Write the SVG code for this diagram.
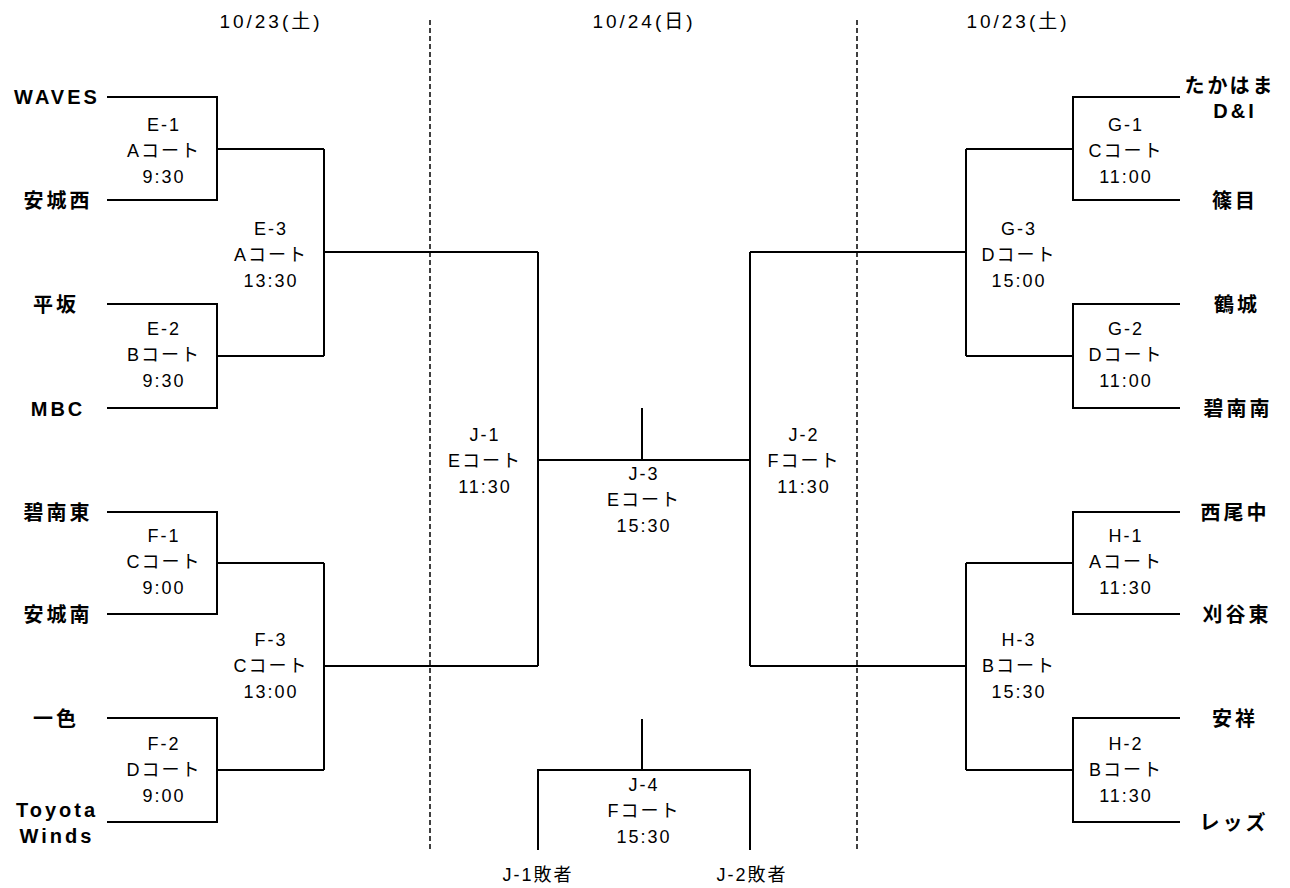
<svg xmlns="http://www.w3.org/2000/svg" width="1290" height="888" viewBox="0 0 1290 888">
<style>
.ln{stroke:#000;stroke-width:2;fill:none}
.dash{stroke:#000;stroke-width:1.5;stroke-dasharray:5,3;fill:none}
.lbl{font-family:"Liberation Sans","Noto Sans CJK JP",sans-serif;font-size:18px;letter-spacing:2px;fill:#000;text-anchor:middle}
.team{font-family:"Liberation Sans","Noto Sans CJK JP",sans-serif;font-size:20px;font-weight:bold;letter-spacing:3px;fill:#000;text-anchor:middle}
.date{font-family:"Liberation Sans","Noto Sans CJK JP",sans-serif;font-size:19px;letter-spacing:3px;fill:#000;text-anchor:middle}
</style>
<rect width="1290" height="888" fill="#fff"/>
<g id="dates">
<text class="date" x="271" y="28">10/23(土)</text>
<text class="date" x="644" y="28">10/24(日)</text>
<text class="date" x="1018" y="28">10/23(土)</text>
</g>
<g id="dividers">
<line class="dash" x1="430" y1="20" x2="430" y2="850"/>
<line class="dash" x1="857" y1="20" x2="857" y2="850"/>
</g>
<g id="connectors">
<path class="ln" d="M107,97H217V200H107M217,149H324"/>
<path class="ln" d="M107,304H217V408H107M217,356H324"/>
<path class="ln" d="M324,149V356M324,252H538"/>
<path class="ln" d="M107,512H217V614H107M217,563H324"/>
<path class="ln" d="M107,718H217V822H107M217,770H324"/>
<path class="ln" d="M324,563V770M324,666H538"/>
<path class="ln" d="M538,252V666M538,460H750M642,408V460"/>
<path class="ln" d="M750,252V666"/>
<path class="ln" d="M1180,97H1073V200H1180M1073,149H966"/>
<path class="ln" d="M1180,304H1073V408H1180M1073,356H966"/>
<path class="ln" d="M966,149V356M966,252H750"/>
<path class="ln" d="M1180,512H1073V614H1180M1073,563H966"/>
<path class="ln" d="M1180,718H1073V822H1180M1073,770H966"/>
<path class="ln" d="M966,563V770M966,666H750"/>
<path class="ln" d="M538,850V770H750V850M642,719V770"/>
</g>
<g id="teams-left">
<text class="team" x="57" y="104">WAVES</text>
<text class="team" x="58" y="208">安城西</text>
<text class="team" x="56" y="312">平坂</text>
<text class="team" x="58" y="416">MBC</text>
<text class="team" x="58" y="520">碧南東</text>
<text class="team" x="58" y="622">安城南</text>
<text class="team" x="56" y="726">一色</text>
<text class="team" x="57" y="817">Toyota</text>
<text class="team" x="57" y="843">Winds</text>
</g>
<g id="teams-right">
<text class="team" x="1230" y="93">たかはま</text>
<text class="team" x="1235" y="118">D&amp;I</text>
<text class="team" x="1235" y="208">篠目</text>
<text class="team" x="1237" y="312">鶴城</text>
<text class="team" x="1238" y="416">碧南南</text>
<text class="team" x="1235" y="520">西尾中</text>
<text class="team" x="1237" y="622">刈谷東</text>
<text class="team" x="1235" y="726">安祥</text>
<text class="team" x="1234" y="830">レッズ</text>
</g>
<g id="E-1"><text class="lbl" x="164" y="131">E-1</text><text class="lbl" x="164" y="157">Aコート</text><text class="lbl" x="164" y="183">9:30</text></g>
<g id="E-2"><text class="lbl" x="164" y="335">E-2</text><text class="lbl" x="164" y="361">Bコート</text><text class="lbl" x="164" y="387">9:30</text></g>
<g id="E-3"><text class="lbl" x="271" y="235">E-3</text><text class="lbl" x="271" y="261">Aコート</text><text class="lbl" x="271" y="287">13:30</text></g>
<g id="F-1"><text class="lbl" x="164" y="542">F-1</text><text class="lbl" x="164" y="568">Cコート</text><text class="lbl" x="164" y="594">9:00</text></g>
<g id="F-2"><text class="lbl" x="164" y="750">F-2</text><text class="lbl" x="164" y="776">Dコート</text><text class="lbl" x="164" y="802">9:00</text></g>
<g id="F-3"><text class="lbl" x="271" y="646">F-3</text><text class="lbl" x="271" y="672">Cコート</text><text class="lbl" x="271" y="698">13:00</text></g>
<g id="J-1"><text class="lbl" x="485" y="441">J-1</text><text class="lbl" x="485" y="467">Eコート</text><text class="lbl" x="485" y="493">11:30</text></g>
<g id="J-2"><text class="lbl" x="804" y="441">J-2</text><text class="lbl" x="804" y="467">Fコート</text><text class="lbl" x="804" y="493">11:30</text></g>
<g id="J-3"><text class="lbl" x="644" y="480">J-3</text><text class="lbl" x="644" y="506">Eコート</text><text class="lbl" x="644" y="532">15:30</text></g>
<g id="J-4"><text class="lbl" x="644" y="791">J-4</text><text class="lbl" x="644" y="817">Fコート</text><text class="lbl" x="644" y="843">15:30</text></g>
<g id="losers"><text class="lbl" x="538" y="881">J-1敗者</text><text class="lbl" x="752" y="881">J-2敗者</text></g>
<g id="G-1"><text class="lbl" x="1126" y="131">G-1</text><text class="lbl" x="1126" y="157">Cコート</text><text class="lbl" x="1126" y="183">11:00</text></g>
<g id="G-2"><text class="lbl" x="1126" y="335">G-2</text><text class="lbl" x="1126" y="361">Dコート</text><text class="lbl" x="1126" y="387">11:00</text></g>
<g id="G-3"><text class="lbl" x="1019" y="235">G-3</text><text class="lbl" x="1019" y="261">Dコート</text><text class="lbl" x="1019" y="287">15:00</text></g>
<g id="H-1"><text class="lbl" x="1126" y="542">H-1</text><text class="lbl" x="1126" y="568">Aコート</text><text class="lbl" x="1126" y="594">11:30</text></g>
<g id="H-2"><text class="lbl" x="1126" y="750">H-2</text><text class="lbl" x="1126" y="776">Bコート</text><text class="lbl" x="1126" y="802">11:30</text></g>
<g id="H-3"><text class="lbl" x="1019" y="646">H-3</text><text class="lbl" x="1019" y="672">Bコート</text><text class="lbl" x="1019" y="698">15:30</text></g>
</svg>
